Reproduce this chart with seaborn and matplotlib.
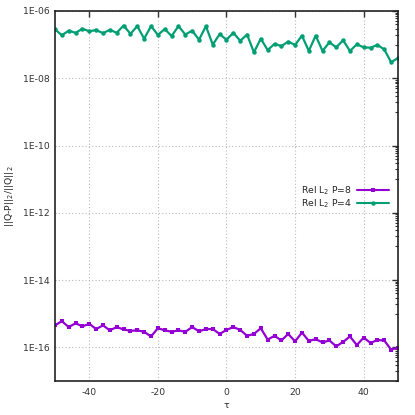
import numpy as np
import pandas as pd
import matplotlib
matplotlib.use("Agg")
import matplotlib.pyplot as plt
import matplotlib.ticker as mticker
import seaborn as sns

# tau grid (every 2 units)
tau = list(range(-50, 51, 2))

# Rel L2 error, P=8
err_p8 = [4.5e-16, 6.0e-16, 4.0e-16, 5.2e-16, 4.2e-16, 5.0e-16, 3.5e-16, 4.5e-16,
          3.2e-16, 4.0e-16, 3.4e-16, 3.1e-16, 3.2e-16, 2.9e-16, 2.1e-16, 3.7e-16,
          3.2e-16, 2.9e-16, 3.2e-16, 2.9e-16, 4.0e-16, 3.0e-16, 3.5e-16, 3.5e-16,
          2.5e-16, 3.3e-16, 4.0e-16, 3.3e-16, 2.2e-16, 2.5e-16, 3.7e-16, 1.7e-16,
          2.2e-16, 1.6e-16, 2.5e-16, 1.5e-16, 2.75e-16, 1.55e-16, 1.75e-16, 1.4e-16,
          1.6e-16, 1.07e-16, 1.45e-16, 2.1e-16, 1.17e-16, 1.95e-16, 1.35e-16, 1.65e-16,
          1.6e-16, 8.5e-17, 9.8e-17]

# Rel L2 error, P=4
err_p4 = [2.85e-7, 1.9e-7, 2.6e-7, 2.25e-7, 2.95e-7, 2.5e-7, 2.7e-7, 2.2e-7,
          2.75e-7, 2.25e-7, 3.7e-7, 2.1e-7, 3.55e-7, 1.5e-7, 3.55e-7, 1.95e-7,
          2.9e-7, 1.8e-7, 3.55e-7, 2.0e-7, 2.6e-7, 1.4e-7, 3.55e-7, 1.0e-7,
          2.05e-7, 1.4e-7, 2.25e-7, 1.3e-7, 2.0e-7, 5.9e-8, 1.5e-7, 6.9e-8,
          1.05e-7, 9.1e-8, 1.23e-7, 9.8e-8, 1.85e-7, 6.5e-8, 1.85e-7, 6.5e-8,
          1.17e-7, 8.3e-8, 1.35e-7, 6.5e-8, 1.02e-7, 8.3e-8, 8.1e-8, 9.8e-8,
          7.2e-8, 3.0e-8, 4.0e-8]

labels = ["Rel L$_2$ P=8", "Rel L$_2$ P=4"]
colors = ["#9400d3", "#009e73"]

df = pd.DataFrame({"tau": tau * 2,
                   "err": err_p8 + err_p4,
                   "series": [labels[0]] * len(tau) + [labels[1]] * len(tau)})

sns.set_style("white")
plt.rcParams["font.family"] = ["DejaVu Sans"]
plt.rcParams["axes.unicode_minus"] = False
fs = 6.7
plt.rcParams["font.size"] = fs

fig = plt.figure(figsize=(4.15, 4.15), dpi=100)
ax = fig.add_axes([0.1325, 0.082, 0.8265, 0.8915])

sns.lineplot(data=df, x="tau", y="err", hue="series", style="series",
             palette=colors, markers=["s", "o"], dashes=False,
             linewidth=1.6, markersize=3.2, markeredgewidth=0, ax=ax)

ax.set_yscale("log")
ax.set_xlim(-50, 50)
ax.set_ylim(1e-17, 1e-6)

ax.xaxis.set_major_locator(mticker.MultipleLocator(20))
ax.set_yticks([10.0 ** e for e in range(-16, -5, 2)])
ax.yaxis.set_major_formatter(mticker.FuncFormatter(lambda v, p: "1E%03d" % round(np.log10(v))))
minor = [k * 10.0 ** d for d in range(-17, -6, 2) for k in range(1, 10)]
ax.yaxis.set_minor_locator(mticker.FixedLocator(minor))
ax.yaxis.set_minor_formatter(mticker.NullFormatter())

ax.tick_params(axis="both", which="both", direction="in", top=True, right=True,
               labelsize=fs, colors="#333333", labelcolor="#333333")
ax.tick_params(which="major", length=4, width=1)
ax.tick_params(which="minor", length=2, width=0.8)
ax.tick_params(axis="x", pad=5)
ax.tick_params(axis="y", pad=4)

ax.grid(True, which="major", linestyle=(0, (1, 2)), color="#bbbbbb", linewidth=0.8)
for s in ax.spines.values():
    s.set_color("#222222")
    s.set_linewidth(1.2)

ax.set_xlabel("τ", fontsize=fs, labelpad=3)
ax.set_ylabel("||Q-P||$_2$/||Q||$_2$", fontsize=fs)
ax.yaxis.set_label_coords(-0.113, 0.5)

leg = ax.legend(loc="center right", bbox_to_anchor=(0.985, 0.497), frameon=False,
                markerfirst=False, handlelength=3.4, handletextpad=0.6,
                labelspacing=0.0, fontsize=fs, borderaxespad=0)
for line in leg.get_lines():
    line.set_linewidth(1.5)

fig.savefig("out.png", dpi=100)
